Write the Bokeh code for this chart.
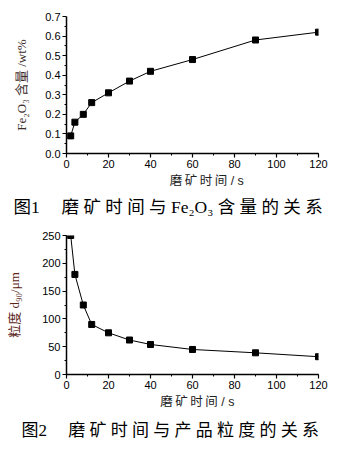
from bokeh.plotting import figure
from bokeh.layouts import column
from bokeh.models import Range1d, Title, FixedTicker
from bokeh.embed import file_html
from bokeh.resources import INLINE

# data
grind_time = [2, 4, 8, 12, 20, 30, 40, 60, 90, 120]
fe2o3_content = [0.09, 0.16, 0.20, 0.26, 0.31, 0.37, 0.42, 0.48, 0.58, 0.62]
particle_d90 = [250, 180, 125, 90, 75, 62, 54, 45, 39, 32]

x_ticks = [0, 20, 40, 60, 80, 100, 120]
y1_ticks = [0.0, 0.1, 0.2, 0.3, 0.4, 0.5, 0.6, 0.7]
y1_tick_labels = ["0.0", "0.1", "0.2", "0.3", "0.4", "0.5", "0.6", "0.7"]
y2_ticks = [0, 50, 100, 150, 200, 250]

caption1 = "图1\u3000 磨 矿 时 间 与 Fe₂O₃ 含 量 的 关 系"
caption2 = "图2\u3000 磨 矿 时 间 与 产 品 粒 度 的 关 系"
xlabel1 = "\u3000\u3000 磨\u2009矿\u2009时\u2009间 / s"
xlabel2 = "\u2002 磨\u2009矿\u2009时\u2009间 / s"
ylabel1 = "Fe₂O₃ 含量 /wt%"
ylabel2 = "粒度 d₉₀/μm"

SANS = "'Liberation Sans', 'Noto Sans CJK SC'"
SERIF = "'Liberation Serif', 'Noto Sans CJK SC'"


def style(p, yticks, yminor, xlabel, ylabel, ycolor):
    p.grid.visible = False
    p.outline_line_color = None
    p.xaxis.ticker = FixedTicker(ticks=x_ticks, minor_ticks=list(range(0, 121, 10)))
    p.yaxis.ticker = FixedTicker(ticks=yticks, minor_ticks=yminor)
    for ax in (p.xaxis[0], p.yaxis[0]):
        ax.axis_line_width = 1.5
        ax.axis_line_color = "black"
        ax.major_tick_line_color = "black"
        ax.major_tick_line_width = 1.2
        ax.minor_tick_line_color = "black"
        ax.major_tick_in = 0
        ax.major_tick_out = 4
        ax.minor_tick_in = 0
        ax.minor_tick_out = 2
        ax.major_label_text_font = SANS
        ax.major_label_text_font_size = "11px"
        ax.major_label_text_color = "black"
        ax.axis_label_text_font_style = "normal"
    p.xaxis.major_label_standoff = 2
    p.yaxis.major_label_standoff = 2
    p.xaxis.axis_label = xlabel
    p.xaxis.axis_label_text_font = SANS
    p.xaxis.axis_label_text_font_size = "12.5px"
    p.xaxis.axis_label_standoff = 3
    p.xaxis.axis_label_text_color = "#222222"
    p.yaxis.axis_label = ylabel
    p.yaxis.axis_label_text_font = SERIF
    p.yaxis.axis_label_text_font_size = "13px"
    p.yaxis.axis_label_text_color = ycolor


# figure 1
p1 = figure(width=351, height=222, output_backend="svg", toolbar_location=None,
            x_range=Range1d(0, 120), y_range=Range1d(0, 0.7),
            min_border_left=66, min_border_right=33, min_border_top=16, min_border_bottom=69)
p1.line(grind_time, fe2o3_content, line_color="black", line_width=1)
p1.scatter(grind_time, fe2o3_content, marker="square", size=6, fill_color="black", line_color="black")
style(p1, y1_ticks, [i * 0.05 for i in range(15)], xlabel1, ylabel1, "#3a2a28")
p1.yaxis.axis_label_standoff = 13
p1.yaxis.major_label_overrides = {t: l for t, l in zip(y1_ticks, y1_tick_labels)}
t1 = Title(text=caption1, align="left", offset=-53, text_font=SERIF, text_font_size="17.5px",
           text_font_style="normal", text_color="black", standoff=8)
p1.add_layout(t1, "below")

# figure 2
p2 = figure(width=351, height=230, output_backend="svg", toolbar_location=None,
            x_range=Range1d(0, 120), y_range=Range1d(0, 250),
            min_border_left=59, min_border_right=23, min_border_top=13, min_border_bottom=78)
p2.line(grind_time, particle_d90, line_color="black", line_width=1)
p2.scatter(grind_time, particle_d90, marker="square", size=6, fill_color="black", line_color="black")
style(p2, y2_ticks, list(range(0, 251, 25)), xlabel2, ylabel2, "#5a2418")
p2.yaxis.axis_label_standoff = 17
t2 = Title(text=caption2, align="left", offset=-45, text_font=SERIF, text_font_size="17px",
           text_font_style="normal", text_color="black", standoff=14)
p2.add_layout(t2, "below")

layout = column(p1, p2, spacing=0)
open("out.html", "w").write(file_html(layout, INLINE))
